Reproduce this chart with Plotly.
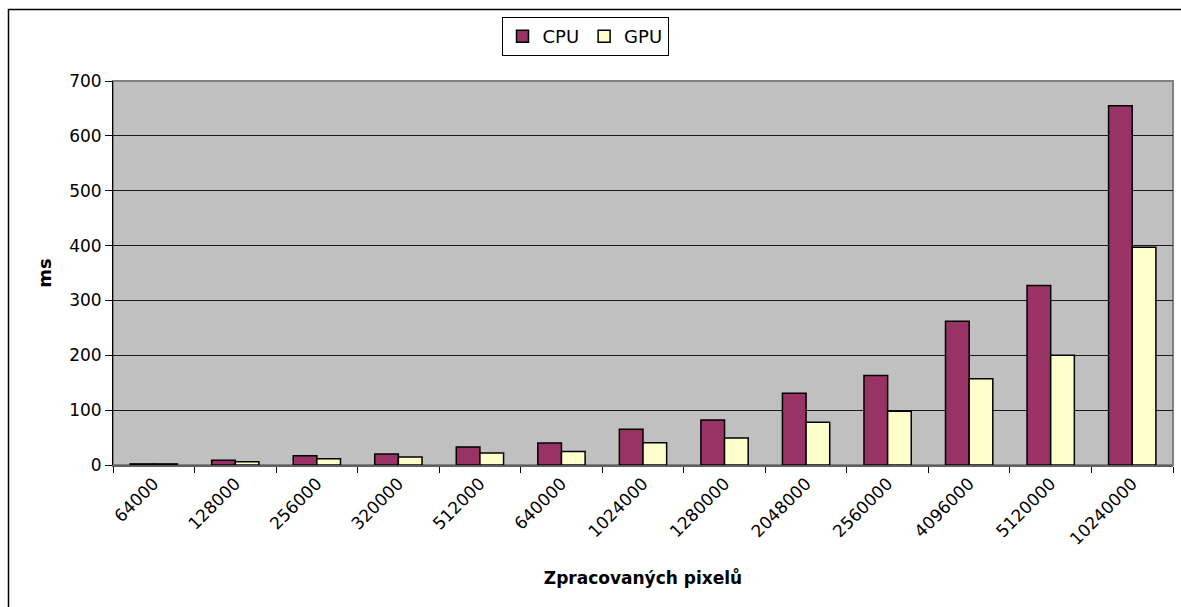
import plotly.graph_objects as go

categories = ["64000", "128000", "256000", "320000", "512000", "640000", "1024000",
              "1280000", "2048000", "2560000", "4096000", "5120000", "10240000"]
cpu_ms = [2, 8.5, 17, 20, 33, 40, 65, 82, 131, 163, 262, 327, 655]
gpu_ms = [2, 6, 11.5, 14.5, 22, 24.5, 40.5, 49, 78, 98, 157, 200, 397]
y_ticks = [0, 100, 200, 300, 400, 500, 600, 700]

FONT = "DejaVu Sans, Arial, sans-serif"

fig = go.Figure()
fig.add_trace(go.Bar(name="CPU", x=categories, y=cpu_ms,
                     marker=dict(color="#993366", line=dict(color="#000000", width=1.5))))
fig.add_trace(go.Bar(name="GPU", x=categories, y=gpu_ms,
                     marker=dict(color="#FFFFCC", line=dict(color="#000000", width=1.5))))

L, R, T, B = 113, 1173, 81, 465
W, H = R - L, B - T

def px_x(x):
    return (x - L) / W

def px_y(y):
    return (B - y) / H

fig.update_layout(
    width=1181, height=607,
    margin=dict(l=L, r=1181 - R, t=T, b=607 - B, autoexpand=False),
    paper_bgcolor="white", plot_bgcolor="#C0C0C0",
    font=dict(family=FONT, size=17, color="black"),
    barmode="group", bargap=0.42, bargroupgap=0.0,
    showlegend=True,
    legend=dict(orientation="h", x=px_x(585), xanchor="center", y=px_y(17), yanchor="top",
                bgcolor="white", bordercolor="#000000", borderwidth=1,
                font=dict(family=FONT, size=18), itemwidth=30, tracegroupgap=0),
    xaxis=dict(
        type="category", tickangle=-45, tickson="boundaries", ticks="outside",
        ticklen=6, tickcolor="#000000", showline=True, linecolor="#606060", linewidth=2,
        showgrid=False, automargin=False,
        tickfont=dict(family=FONT, size=17),
        title=dict(text="<b>Zpracovaných pixelů</b>", font=dict(family=FONT, size=17), standoff=24),
    ),
    yaxis=dict(
        range=[0, 700], tickvals=y_ticks, ticks="outside", ticklen=7, tickcolor="#000000",
        showline=True, linecolor="#000000", linewidth=1, zeroline=False,
        showgrid=True, gridcolor="#1a1a1a", gridwidth=1, automargin=False,
        tickfont=dict(family=FONT, size=17),
        title=dict(text="<b>ms</b>", font=dict(family=FONT, size=18), standoff=12),
    ),
)

# plot area border (gray) and outer chart border
fig.add_shape(type="rect", xref="paper", yref="paper", x0=0, x1=1, y0=0, y1=1,
              line=dict(color="#808080", width=2), layer="below")
fig.add_shape(type="rect", xref="paper", yref="paper",
              x0=px_x(8.5), x1=px_x(1190), y0=px_y(9.5), y1=px_y(620),
              line=dict(color="#000000", width=1.5), fillcolor="rgba(0,0,0,0)", layer="above")

fig.write_html("out.html")
